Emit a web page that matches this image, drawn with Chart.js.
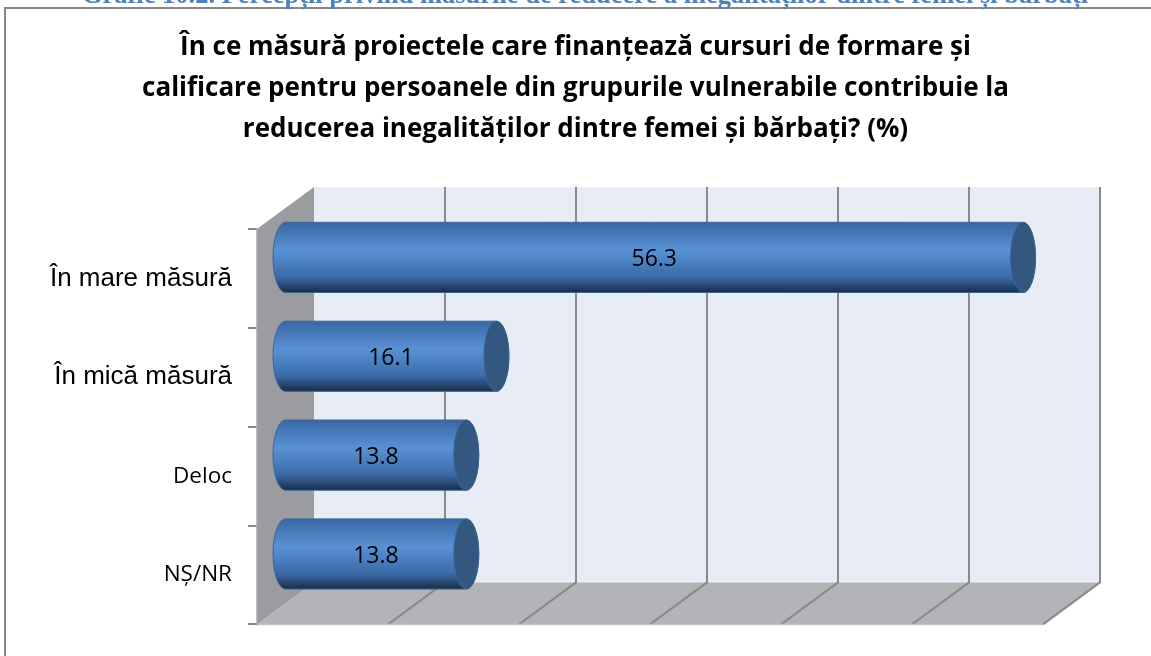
<!DOCTYPE html>
<html><head><meta charset="utf-8">
<script src="https://cdn.jsdelivr.net/npm/chart.js@4.4.0/dist/chart.umd.min.js"></script>
<style>html,body{margin:0;padding:0;background:#fff;overflow:hidden}
#wrap{position:absolute;left:0;top:0;width:1151px;height:656px}</style>
</head><body><div id="wrap"><canvas id="c" width="1151" height="656"></canvas></div>
<script>
// ---- data ----
const categories = ['În mare măsură', 'În mică măsură', 'Deloc', 'NȘ/NR'];
const values = [56.3, 16.1, 13.8, 13.8];
const valueLabels = ['56.3', '16.1', '13.8', '13.8'];
const xMin = 0, xMax = 60, xStep = 10;
const titleLines = [
  'În ce măsură proiectele care finanțează cursuri de formare și',
  'calificare pentru persoanele din grupurile vulnerabile contribuie la',
  'reducerea inegalităților dintre femei și bărbați? (%)'
];
const headerText = 'Grafic 10.2. Percepții privind măsurile de reducere a inegalităților dintre femei și bărbați';

// ---- 3D styling ----
const DX = 57, DY = 42, RX = 12.5;

function poly(ctx, pts) {
  ctx.beginPath();
  ctx.moveTo(pts[0][0], pts[0][1]);
  for (let i = 1; i < pts.length; i++) ctx.lineTo(pts[i][0], pts[i][1]);
  ctx.closePath();
}

const plugin3d = {
  id: 'p3d',
  beforeDraw(chart) {
    const { ctx, width, height } = chart;
    ctx.save();
    ctx.strokeStyle = '#878787'; ctx.lineWidth = 2;
    ctx.beginPath(); ctx.moveTo(5, height + 5); ctx.lineTo(5, 8); ctx.lineTo(width + 5, 8); ctx.stroke();
    ctx.font = 'bold 26.5px "Liberation Serif"';
    ctx.fillStyle = '#4f81bd'; ctx.textAlign = 'center'; ctx.textBaseline = 'alphabetic';
    ctx.fillText(headerText, 585, 3);
    ctx.restore();
  },
  beforeDatasetsDraw(chart) {
    const { ctx, chartArea: a, scales: { x } } = chart;
    const L = x.getPixelForValue(xMin), R = x.getPixelForValue(xMax), T = a.top, B = a.bottom;
    ctx.save();
    ctx.fillStyle = '#e8ecf5';
    ctx.fillRect(L + DX, T - DY, R - L, B - T);
    ctx.fillStyle = '#9b9c9f';
    poly(ctx, [[L, T], [L + DX, T - DY], [L + DX, B - DY], [L, B]]); ctx.fill();
    ctx.fillStyle = '#b2b4b7';
    poly(ctx, [[L, B], [L + DX, B - DY], [R + DX, B - DY], [R, B]]); ctx.fill();
    ctx.strokeStyle = '#8a8a8a'; ctx.lineWidth = 2;
    const tv = (x.ticks && x.ticks.length) ? x.ticks.map(t => t.value) : [];
    tv.forEach(v => {
      if (v <= xMin) return;
      const p = x.getPixelForValue(v);
      ctx.beginPath(); ctx.moveTo(p + DX, T - DY); ctx.lineTo(p + DX, B - DY); ctx.lineTo(p, B); ctx.stroke();
    });
    ctx.strokeStyle = '#c4c4c4'; ctx.lineWidth = 1.5;
    ctx.beginPath(); ctx.moveTo(L, B); ctx.lineTo(R, B); ctx.stroke();
    ctx.strokeStyle = '#a8a8a8';
    ctx.beginPath(); ctx.moveTo(L, T); ctx.lineTo(L, B); ctx.stroke();
    ctx.restore();
  },
  afterDatasetsDraw(chart) {
    const { ctx } = chart;
    const meta = chart.getDatasetMeta(0);
    ctx.save();
    meta.data.forEach((bar, i) => {
      const { x: xe, y, base, height: h } = bar.getProps(['x', 'y', 'base', 'height'], true);
      const x0 = base + DX / 2, x1 = xe + DX / 2, cy = y - DY / 2, ry = h / 2;
      const g = ctx.createLinearGradient(0, cy - ry, 0, cy + ry);
      g.addColorStop(0, '#3b67a3');
      g.addColorStop(0.4, '#5892d6');
      g.addColorStop(0.78, '#3b6aa7');
      g.addColorStop(1, '#1a2d48');
      ctx.beginPath();
      ctx.moveTo(x0, cy - ry);
      ctx.lineTo(x1, cy - ry);
      ctx.ellipse(x1, cy, RX, ry, 0, -Math.PI / 2, Math.PI / 2, false);
      ctx.lineTo(x0, cy + ry);
      ctx.ellipse(x0, cy, RX, ry, 0, Math.PI / 2, Math.PI * 1.5, false);
      ctx.closePath();
      ctx.fillStyle = g; ctx.fill();
      ctx.strokeStyle = '#3b6599'; ctx.lineWidth = 1; ctx.stroke();
      ctx.beginPath();
      ctx.ellipse(x1, cy, RX, ry, 0, 0, Math.PI * 2);
      ctx.fillStyle = '#33577f'; ctx.fill();
      ctx.strokeStyle = '#3b6599'; ctx.stroke();
      ctx.fillStyle = '#000'; ctx.font = '23px "Open Sans"';
      ctx.textAlign = 'center'; ctx.textBaseline = 'middle';
      ctx.fillText(valueLabels[i], (x0 + x1) / 2, cy + 2);
    });
    ctx.restore();
  }
};

new Chart(document.getElementById('c'), {
  type: 'bar',
  data: {
    labels: categories,
    datasets: [{
      data: values,
      backgroundColor: 'rgba(0,0,0,0)',
      borderWidth: 0,
      barPercentage: 0.71,
      categoryPercentage: 1
    }]
  },
  options: {
    responsive: false,
    animation: false,
    indexAxis: 'y',
    layout: { padding: { left: 0, right: 0, top: 0, bottom: 27 } },
    plugins: {
      legend: { display: false },
      tooltip: { enabled: false },
      title: {
        display: true,
        text: titleLines,
        color: '#000',
        font: { family: '"Open Sans"', weight: 'bold', size: 26, lineHeight: 41 / 26 },
        padding: { top: 27.5, bottom: 78.5 }
      }
    },
    scales: {
      x: {
        display: false,
        min: xMin, max: xMax,
        ticks: { stepSize: xStep }
      },
      y: {
        ticks: {
          padding: 16,
          color: '#000',
          font: (c) => c.index < 2 ? { family: '"Liberation Sans", Arial', size: 26 } : { family: '"Open Sans"', size: 22.5 }
        },
        grid: { drawOnChartArea: false, drawTicks: true, tickLength: 9, color: '#8a8a8a', lineWidth: 2, offset: true },
        border: { display: false },
        afterFit(scale) { scale.width = 257; }
      },
      yR: {
        type: 'category',
        position: 'right',
        ticks: { display: false },
        grid: { display: false },
        border: { display: false },
        afterFit(scale) { scale.width = 108; }
      }
    }
  },
  plugins: [plugin3d]
});
</script>
</body></html>
